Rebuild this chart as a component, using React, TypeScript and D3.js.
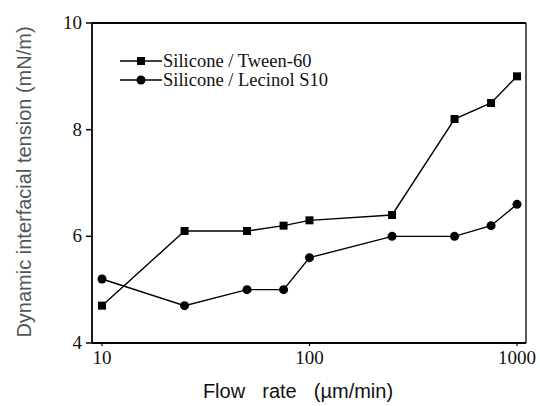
import React from "react"
import * as d3 from "d3"

const flowRates = [10, 25, 50, 75, 100, 250, 500, 750, 1000]
const tween60 = [4.7, 6.1, 6.1, 6.2, 6.3, 6.4, 8.2, 8.5, 9.0]
const lecinol = [5.2, 4.7, 5.0, 5.0, 5.6, 6.0, 6.0, 6.2, 6.6]
const yTicks = [4, 6, 8, 10]
const xTicks = [10, 100, 1000]
const seriesNames = ["Silicone / Tween-60", "Silicone / Lecinol S10"]

const left = 92
const right = 526
const top = 23
const bottom = 343

const serif = "'Liberation Serif'"
const sans = "'Liberation Sans'"

const x = d3.scaleLog().domain([8.95, 1105]).range([left, right])
const y = d3.scaleLinear().domain([4, 10]).range([bottom, top])

const Marker = ({ shape, cx, cy }: { shape: string; cx: number; cy: number }) =>
    shape === "square" ? (
        <rect x={cx - 4} y={cy - 4} width={8} height={8} fill="#000" />
    ) : (
        <circle cx={cx} cy={cy} r={4.5} fill="#000" />
    )

const App = () => {
    const series = [
        { name: seriesNames[0], vals: tween60, shape: "square" },
        { name: seriesNames[1], vals: lecinol, shape: "circle" },
    ]
    const line = d3.line<number>()
        .x((_, i) => x(flowRates[i]))
        .y((v) => y(v))

    return (
        <svg width={540} height={406}
            style={{ position: "absolute", left: 0, top: 0, background: "#fff" }}>
            {/* frame */}
            <line x1={left} x2={right} y1={top} y2={top} stroke="#000" strokeWidth={2} />
            <line x1={right} x2={right} y1={top} y2={bottom} stroke="#000" strokeWidth={1.3} />
            <line x1={left} x2={left} y1={top} y2={bottom} stroke="#000" strokeWidth={1.8} />
            <line x1={left} x2={right} y1={bottom} y2={bottom} stroke="#000" strokeWidth={1.8} />

            {yTicks.map((t) => (
                <g key={t} transform={`translate(0,${y(t)})`}>
                    <line x1={left - 6} x2={left} stroke="#000" strokeWidth={1.5} />
                    <text x={left - 10} dy="0.32em" textAnchor="end"
                        style={{ fontFamily: serif, fontSize: 19 }} fill="#111">{t}</text>
                </g>
            ))}
            {xTicks.map((t) => (
                <g key={t} transform={`translate(${x(t)},0)`}>
                    <line y1={bottom} y2={bottom + 3} stroke="#000" strokeWidth={1.2} />
                    <text y={bottom + 8} dy="0.71em" textAnchor="middle"
                        style={{ fontFamily: serif, fontSize: 19 }} fill="#111">{t}</text>
                </g>
            ))}

            {series.map((s) => (
                <g key={s.name}>
                    <path d={line(s.vals) || ""} fill="none" stroke="#000" strokeWidth={1.4} />
                    {s.vals.map((v, i) => (
                        <Marker key={i} shape={s.shape} cx={x(flowRates[i])} cy={y(v)} />
                    ))}
                </g>
            ))}

            {series.map((s, i) => {
                const ly = 61 + i * 19
                return (
                    <g key={"lg" + s.name}>
                        <line x1={120} x2={162} y1={ly} y2={ly} stroke="#000" strokeWidth={1.4} />
                        <Marker shape={s.shape} cx={141} cy={ly} />
                        <text x={163} y={ly + 6} style={{ fontFamily: serif, fontSize: 18.5 }} fill="#111">
                            {s.name}
                        </text>
                    </g>
                )
            })}

            <text x={298} y={398} textAnchor="middle"
                style={{ fontFamily: sans, fontSize: 20, whiteSpace: "pre", wordSpacing: 3 }} fill="#111">
                {"Flow  rate  (\u00b5m/min)"}
            </text>
            <text transform="translate(31,182) rotate(-90)" textAnchor="middle"
                style={{ fontFamily: sans, fontSize: 20 }} fill="#555">
                Dynamic interfacial tension (mN/m)
            </text>
        </svg>
    )
}

export default App
